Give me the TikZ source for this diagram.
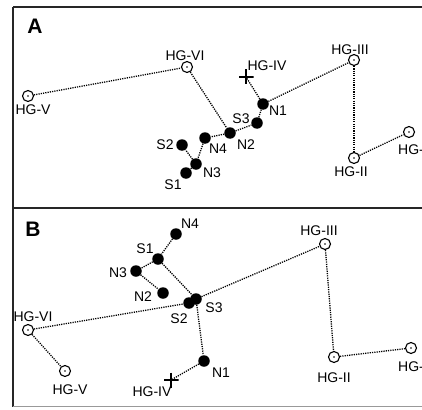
\documentclass[tikz,border=0pt]{standalone}
\usepackage{fontspec}
\setmainfont{Liberation Sans}
\begin{document}
\begin{tikzpicture}[x=1pt,y=-1pt,
  hg/.style={circle,draw,line width=1.1pt,inner sep=0pt,minimum size=11pt,
    path picture={\fill (path picture bounding box.center) circle (0.8pt);}},
  blob/.style={circle,fill,inner sep=0pt,minimum size=11.5pt},
  plus/.style={rectangle,inner sep=0pt,minimum size=15pt,
    path picture={\draw[line width=1.1pt] (path picture bounding box.north)--(path picture bounding box.south)
      (path picture bounding box.east)--(path picture bounding box.west);}},
  link/.style={line width=1.3pt,dash pattern=on 1.2pt off 1.1pt},
  lbl/.style={font=\fontsize{14}{15}\selectfont,inner sep=0pt},
  panel/.style={font=\fontsize{21}{22}\selectfont\bfseries,inner sep=0pt},
  frame/.style={line width=1.5pt,draw=black!85}]
\clip (0,0) rectangle (422,409);
\fill[white] (0,0) rectangle (422,409);
% frame
\draw[frame] (13,7) -- (422,7);
\draw[frame] (13,7) -- (13,407);
\draw[frame] (13,208) -- (422,208);
\draw[line width=1pt,black!40] (13,406.5) -- (422,406.5);

% ---------- Panel A ----------
\node[panel] (tA) at (35,26) {A};
\node[hg] (hgvA) at (28,96) {};
\node[hg] (hgviA) at (187,67) {};
\node[plus] (hgivA) at (246,77) {};
\node[blob] (n1A) at (263,104) {};
\node[blob] (s3A) at (257,123) {};
\node[blob] (n2A) at (230,133) {};
\node[blob] (n4A) at (205,138) {};
\node[blob] (s2A) at (182,145) {};
\node[blob] (n3A) at (196,164) {};
\node[blob] (s1A) at (186,173) {};
\node[hg] (hgiiiA) at (354,60) {};
\node[hg] (hgiiA) at (354,158) {};
\node[hg] (hgiA) at (409,132) {};

\draw[link] (hgvA) -- (hgviA);
\draw[link] (hgviA) -- (n2A);
\draw[link] (n2A) -- (n4A);
\draw[link] (n4A) -- (n3A);
\draw[link] (n3A) -- (s2A);
\draw[link] (n3A) -- (s1A);
\draw[link] (n2A) -- (s3A);
\draw[link] (s3A) -- (n1A);
\draw[link] (n1A) -- (hgivA.center);
\draw[link] (n1A) -- (hgiiiA);
\draw[link] (hgiiiA) -- (hgiiA);
\draw[link] (hgiiA) -- (hgiA);

\node[lbl] (lhgvA) at (33,110) {HG-V};
\node[lbl] (lhgviA) at (185,56) {HG-VI};
\node[lbl] (lhgivA) at (267,66) {HG-IV};
\node[lbl] (ln1A) at (278,111) {N1};
\node[lbl] (ls3A) at (241,119) {S3};
\node[lbl] (ln2A) at (246,145) {N2};
\node[lbl] (ln4A) at (218,149) {N4};
\node[lbl] (ls2A) at (165,145) {S2};
\node[lbl] (ln3A) at (212,173) {N3};
\node[lbl] (ls1A) at (173,185) {S1};
\node[lbl] (lhgiiiA) at (350,50) {HG-III};
\node[lbl] (lhgiiA) at (351,172) {HG-II};
\node[lbl,anchor=west] (lhgiA) at (398,150) {HG-I};

% ---------- Panel B ----------
\node[panel] (tB) at (33,229) {B};
\node[blob] (n4B) at (176,234) {};
\node[blob] (s1B) at (158,259) {};
\node[blob] (n3B) at (136,271) {};
\node[blob] (n2B) at (163,293) {};
\node[blob] (s2B) at (189,303) {};
\node[blob] (s3B) at (196,299) {};
\node[hg] (hgviB) at (28,330) {};
\node[hg] (hgvB) at (65,371) {};
\node[blob] (n1B) at (204,361) {};
\node[plus] (hgivB) at (171,380) {};
\node[hg] (hgiiiB) at (325,244) {};
\node[hg] (hgiiB) at (334,357) {};
\node[hg] (hgiB) at (411,348) {};

\draw[link] (n4B) -- (s1B);
\draw[link] (s1B) -- (n3B);
\draw[link] (n3B) -- (n2B);
\draw[link] (s1B) -- (s3B);
\draw[link] (hgviB) -- (s2B);
\draw[link] (s3B) -- (hgiiiB);
\draw[link] (s3B) -- (n1B);
\draw[link] (n1B) -- (hgivB.center);
\draw[link] (hgviB) -- (hgvB);
\draw[link] (hgiiiB) -- (hgiiB);
\draw[link] (hgiiB) -- (hgiB);

\node[lbl] (ln4B) at (190,224) {N4};
\node[lbl] (ls1B) at (145,249) {S1};
\node[lbl] (ln3B) at (118,273) {N3};
\node[lbl] (ln2B) at (143,297) {N2};
\node[lbl] (ls3B) at (214,308) {S3};
\node[lbl] (ls2B) at (179,319) {S2};
\node[lbl] (lhgviB) at (33,317) {HG-VI};
\node[lbl] (lhgvB) at (70,390) {HG-V};
\node[lbl] (ln1B) at (221,373) {N1};
\node[lbl] (lhgivB) at (152,392) {HG-IV};
\node[lbl] (lhgiiiB) at (319,231) {HG-III};
\node[lbl] (lhgiiB) at (334,378) {HG-II};
\node[lbl,anchor=west] (lhgiB) at (398,367) {HG-I};
\end{tikzpicture}
\end{document}
